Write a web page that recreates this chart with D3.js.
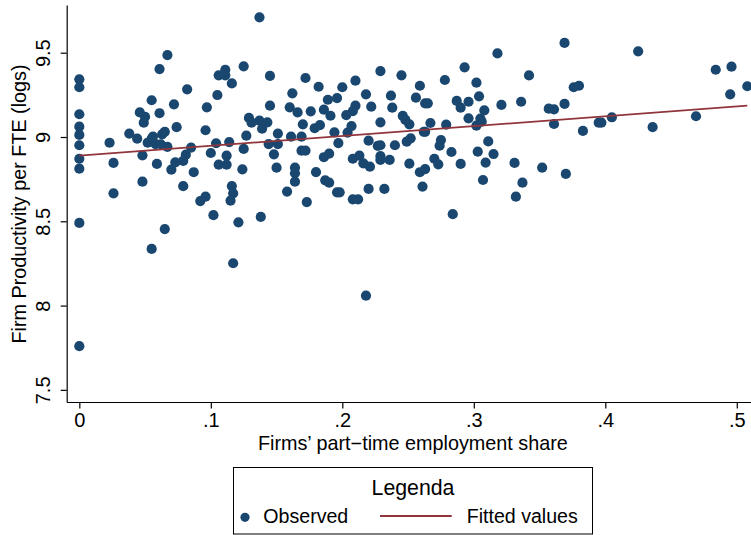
<!DOCTYPE html>
<html>
<head>
<meta charset="utf-8">
<script src="https://cdn.jsdelivr.net/npm/d3@7"></script>
<style>
html,body{margin:0;padding:0;background:#fff;}
svg{display:block;font-family:"Liberation Sans",Arial,Helvetica,sans-serif;}
</style>
</head>
<body>
<svg id="chart" width="751" height="535"></svg>
<script>
// ---- data ----
const obsX = [
0,0,0,0,0,0,0,0,0,0,
0.023,0.026,0.026,0.038,0.044,0.046,0.050,0.049,0.048,0.048,
0.055,0.061,0.067,0.061,0.072,0.074,0.065,0.063,0.052,0.055,
0.058,0.062,0.067,0.059,0.070,0.073,0.079,0.081,0.085,0.087,
0.079,0.082,0.097,0.096,0.100,0.105,0.104,0.106,0.111,0.111,
0.116,0.125,0.137,0.114,0.112,0.106,0.112,0.124,0.125,0.127,
0.129,0.131,0.137,0.139,0.143,0.145,0.145,0.144,0.148,0.151,
0.151,0.150,0.158,0.160,0.162,0.161,0.164,0.164,0.164,0.116,
0.117,0.092,0.096,0.115,0.166,0.102,0.121,0.138,0.065,0.055,
0.117,0.056,
0.173,0.196,0.198,0.208,0.212,0.220,0.232,0.261,0.284,0.332,
0.218,0.172,0.182,0.189,0.196,0.200,0.210,0.218,0.229,0.245,
0.237,0.238,0.222,0.210,0.208,0.203,0.191,0.186,0.176,0.170,
0.183,0.179,0.169,0.169,0.172,0.180,0.186,0.190,0.194,0.197,
0.187,0.190,0.204,0.207,0.208,0.213,0.216,0.221,0.220,0.229,
0.227,0.229,0.229,0.229,0.236,0.240,0.246,0.248,0.251,0.249,
0.252,0.251,0.256,0.259,0.263,0.265,0.262,0.263,0.267,0.259,
0.263,0.270,0.273,0.275,0.274,0.278,0.279,0.283,0.290,0.287,
0.290,0.296,0.293,0.302,0.304,0.296,0.308,0.305,0.306,0.302,
0.311,0.303,0.315,0.309,0.307,0.318,0.321,0.336,0.331,0.337,
0.342,0.369,0.376,0.380,0.357,0.361,0.369,0.361,0.383,0.395,
0.397,0.405,0.425,0.436,0.469,0.484,0.496,0.495,0.508,0.352,
0.370
];
const obsY = [
9.342,9.295,9.135,9.061,9.012,8.951,8.871,8.812,8.490,7.759,
8.966,8.846,8.666,9.020,8.990,9.146,9.120,9.085,8.891,8.735,
9.218,9.403,9.486,9.141,9.194,9.058,9.031,9.016,8.966,8.990,
8.958,8.957,8.941,8.840,8.806,8.850,8.858,8.895,8.937,8.791,
8.708,9.283,9.176,9.040,8.905,9.249,8.963,9.366,9.399,9.366,
9.318,9.419,9.710,8.970,8.889,8.836,8.836,8.808,8.929,9.008,
9.113,9.085,9.097,9.049,9.087,9.362,9.186,8.958,8.897,9.020,
8.958,8.818,8.676,9.176,9.259,9.002,8.818,8.785,8.735,8.709,
8.666,8.620,8.646,8.622,9.146,8.536,8.494,8.526,8.454,8.336,
8.251,9.003,
8.614,8.672,8.672,8.630,8.630,8.692,8.692,8.706,8.542,8.646,
8.059,9.350,9.298,9.221,9.231,9.295,9.334,9.253,9.391,9.366,
9.245,9.174,9.180,9.186,9.154,9.130,9.126,9.162,9.152,9.075,
9.071,9.052,9.002,8.919,8.919,8.792,8.880,8.901,9.028,8.964,
8.743,8.729,9.026,9.065,8.871,8.889,8.844,8.824,8.978,9.087,
8.947,8.951,8.887,8.864,8.864,8.951,9.125,9.101,9.075,8.972,
8.992,8.842,9.233,9.304,9.200,9.200,9.031,9.031,9.083,8.791,
8.810,8.871,8.838,8.982,8.948,9.338,9.073,8.911,8.840,9.214,
9.174,9.209,9.413,9.322,9.241,9.111,9.158,9.109,9.091,9.067,
8.974,8.913,8.899,8.848,8.745,9.496,9.190,9.209,8.846,8.729,
9.365,9.558,9.295,9.304,9.168,9.164,9.196,9.077,9.036,9.085,
9.085,9.117,9.508,9.059,9.123,9.399,9.417,9.253,9.301,8.818,8.781
];
const fitX = [0, 0.508];
const fitY = [8.889, 9.186];

const xTicks = [0, 0.1, 0.2, 0.3, 0.4, 0.5];
const xTickLabels = ["0", ".1", ".2", ".3", ".4", ".5"];
const yTicks = [7.5, 8, 8.5, 9, 9.5];
const yTickLabels = ["7.5", "8", "8.5", "9", "9.5"];

const xTitle = "Firms\u2019 part\u2212time employment share";
const yTitle = "Firm Productivity per FTE (logs)";
const legendTitle = "Legenda";
const seriesNames = ["Observed", "Fitted values"];

// ---- layout ----
const markerColor = "#1a476f";
const lineColor = "#90353b";
const L = 66.7, R = 759, T = 5, B = 402;

const svg = d3.select("#chart");
const x = d3.scaleLinear().domain([-0.0096, 0.5169]).range([L, R]);
const y = d3.scaleLinear().domain([7.428, 9.783]).range([B, T]);

// points
const pts = obsX.map((v, i) => ({x: v, y: obsY[i]}));
svg.append("g").selectAll("circle").data(pts).join("circle")
  .attr("cx", d => x(d.x)).attr("cy", d => y(d.y)).attr("r", 5.1)
  .attr("fill", markerColor);

// fitted line
const fit = fitX.map((v, i) => [v, fitY[i]]);
svg.append("path").datum(fit)
  .attr("d", d3.line().x(d => x(d[0])).y(d => y(d[1])))
  .attr("fill", "none").attr("stroke", lineColor).attr("stroke-width", 1.8);

// axes
const fs = 20;
const xAxis = svg.append("g").attr("transform", `translate(0,${B})`)
  .call(d3.axisBottom(x).tickValues(xTicks).tickFormat((d, i) => xTickLabels[i])
        .tickSizeInner(6.5).tickSizeOuter(0).tickPadding(8));
xAxis.selectAll("text").attr("font-size", fs).attr("fill", "#000")
  .attr("y", 11).attr("font-family", "Liberation Sans, Arial, sans-serif");

const yAxis = svg.append("g").attr("transform", `translate(${L},0)`)
  .call(d3.axisLeft(y).tickValues(yTicks).tickFormat((d, i) => yTickLabels[i])
        .tickSizeInner(6).tickSizeOuter(0));
yAxis.selectAll("text").attr("font-size", fs).attr("fill", "#000")
  .attr("x", 0).attr("dy", 0).attr("y", -16.7)
  .attr("transform", "rotate(-90)").attr("text-anchor", "middle")
  .attr("font-family", "Liberation Sans, Arial, sans-serif");
svg.selectAll(".domain, .tick line").attr("stroke", "#000").attr("stroke-width", 1.2);

// axis titles
svg.append("text").attr("x", (L + R) / 2).attr("y", 449.5)
  .attr("text-anchor", "middle").attr("font-size", 19.8).text(xTitle);
svg.append("text").attr("transform", "translate(25.5,204) rotate(-90)")
  .attr("text-anchor", "middle").attr("font-size", 19.8).text(yTitle);

// legend
const lg = svg.append("g");
lg.append("rect").attr("x", 233.5).attr("y", 467.5).attr("width", 359).attr("height", 66.5)
  .attr("fill", "#fff").attr("stroke", "#000").attr("stroke-width", 1);
lg.append("text").attr("x", 413).attr("y", 495).attr("text-anchor", "middle")
  .attr("font-size", 21.3).text(legendTitle);
lg.append("circle").attr("cx", 245).attr("cy", 517.3).attr("r", 4.6).attr("fill", markerColor);
lg.append("text").attr("x", 263.3).attr("y", 523.3).attr("font-size", 19.6).text(seriesNames[0]);
lg.append("line").attr("x1", 380).attr("x2", 451.7).attr("y1", 516).attr("y2", 516)
  .attr("stroke", lineColor).attr("stroke-width", 1.8);
lg.append("text").attr("x", 466.7).attr("y", 523.3).attr("font-size", 19.6).text(seriesNames[1]);
</script>
</body>
</html>
